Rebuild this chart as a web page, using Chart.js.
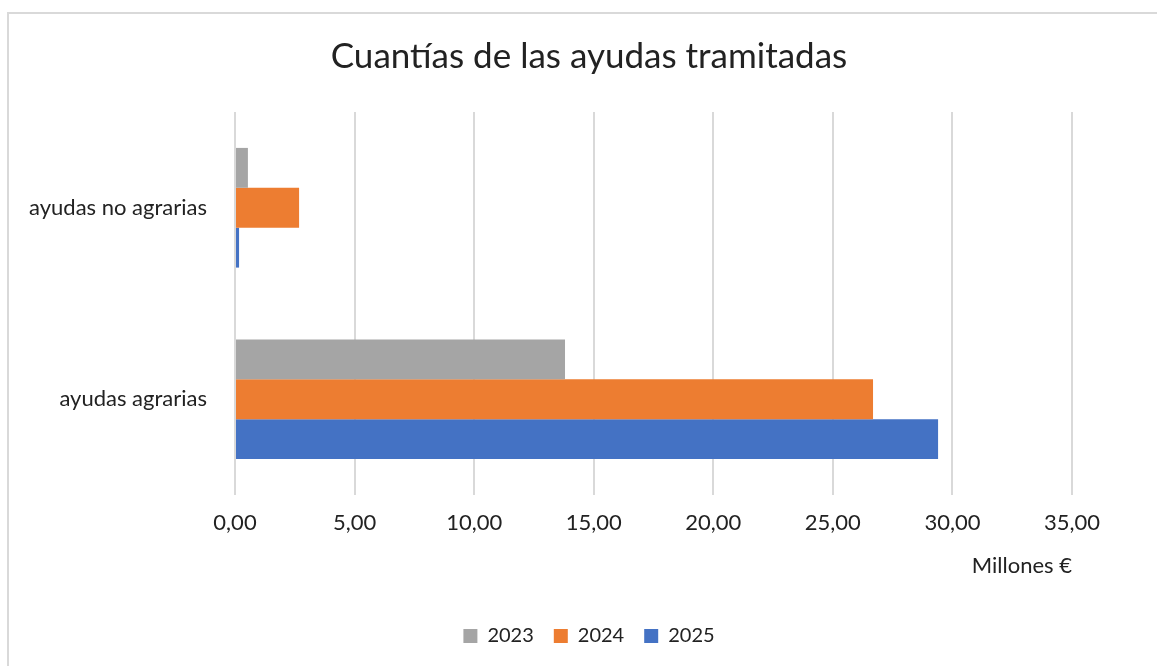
<!DOCTYPE html>
<html>
<head>
<meta charset="utf-8">
<script src="https://cdn.jsdelivr.net/npm/chart.js@4"></script>
<style>
    html, body { margin: 0; padding: 0; background: #fff; overflow: hidden; }
    #frame {
        position: absolute; left: 7px; top: 12px; width: 1170px; height: 652px;
        border-top: 2px solid #d9d9d9; border-left: 2px solid #d9d9d9;
    }
</style>
</head>
<body>
<div id="frame"><canvas id="chart" width="1160" height="652"></canvas></div>
<script>
const categories = ['ayudas no agrarias', 'ayudas agrarias'];
const years = ['2023', '2024', '2025'];
const values2023 = [0.54, 13.80];
const values2024 = [2.68, 26.68];
const values2025 = [0.17, 29.40];
const colors = ['#A5A5A5', '#ED7D31', '#4472C4'];

const textColor = '#222';
const fontFamily = 'Lato, "Open Sans", sans-serif';

const ctx = document.getElementById('chart').getContext('2d');
const chart = new Chart(ctx, {
    type: 'bar',
    data: {
        labels: categories,
        datasets: [values2023, values2024, values2025].map((vals, i) => ({
            label: years[i],
            data: vals,
            backgroundColor: colors[i],
            barPercentage: 1,
            categoryPercentage: 0.625
        }))
    },
    options: {
        indexAxis: 'y',
        responsive: false,
        animation: false,
        layout: { padding: { left: 0, right: 0, top: 0, bottom: 10 } },
        plugins: {
            title: {
                display: true,
                text: 'Cuantías de las ayudas tramitadas',
                color: textColor,
                font: { family: fontFamily, size: 35, weight: 'normal' },
                padding: { top: 22, bottom: 34 }
            },
            legend: {
                position: 'bottom',
                labels: {
                    color: textColor,
                    font: { family: fontFamily, size: 20 },
                    boxWidth: 14,
                    boxHeight: 14,
                    padding: 20
                }
            },
            tooltip: { enabled: false }
        },
        scales: {
            x: {
                min: 0,
                max: 35,
                ticks: {
                    stepSize: 5,
                    color: textColor,
                    font: { family: fontFamily, size: 22 },
                    padding: 15,
                    callback: v => v.toFixed(2).replace('.', ',')
                },
                grid: { color: '#d9d9d9', lineWidth: 2, drawTicks: false },
                border: { display: false },
                title: {
                    display: true,
                    text: 'Millones €',
                    align: 'end',
                    color: textColor,
                    font: { family: fontFamily, size: 22 },
                    padding: { top: 0, bottom: 27 }
                },
                afterFit: scale => { scale.height = 111; }
            },
            y: {
                ticks: {
                    color: textColor,
                    font: { family: fontFamily, size: 22 },
                    padding: 28
                },
                grid: { display: false, drawTicks: false },
                border: { display: false },
                afterFit: scale => { scale.width = 226; }
            },
            // empty right-hand spacer so the plot ends where the original does
            spacer: {
                type: 'linear',
                position: 'right',
                display: true,
                ticks: { display: false },
                grid: { display: false, drawTicks: false },
                border: { display: false },
                afterFit: scale => { scale.width = 97; }
            }
        }
    }
});
</script>
</body>
</html>
